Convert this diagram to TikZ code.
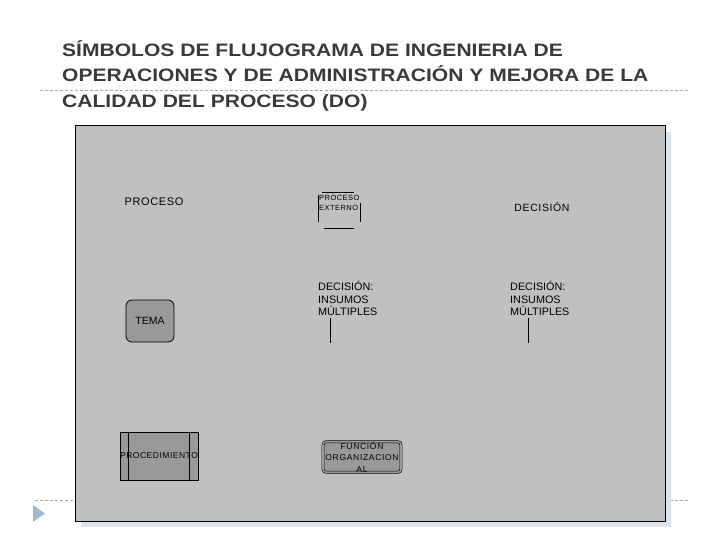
\documentclass[tikz,border=0pt]{standalone}
\usepackage{fontspec}
\usepackage{graphicx}
\setmainfont{Liberation Sans}
\newfontfamily\spaced[LetterSpace=6]{Liberation Sans}
\newfontfamily\wide[LetterSpace=8]{Liberation Sans}
\usetikzlibrary{positioning}

\definecolor{fond}{HTML}{C0C0C0}
\definecolor{ombre}{HTML}{DCE4EA}
\definecolor{symbole}{HTML}{999999}
\definecolor{titre}{HTML}{3A3A3A}
\definecolor{tirets}{HTML}{A8A8A8}
\definecolor{puce}{HTML}{A6B6CC}

\newcommand{\etire}[1]{\scalebox{1.17}[1]{#1}}

\tikzset{
  etiquette/.style={inner sep=0pt, font=\fontsize{10.8}{12.5}\selectfont, align=left},
  forme/.style={draw=black, fill=symbole, line width=0.8pt},
}

\begin{document}
\begin{tikzpicture}[x=1pt, y=-1pt]
    \useasboundingbox (0,0) rectangle (720,540);

    % Titre
    \node[anchor=north west, inner sep=0pt, align=left, text=titre,
      font=\fontsize{18}{25.5}\selectfont\bfseries] (titre) at (62,40)
    {\etire{SÍMBOLOS DE FLUJOGRAMA DE INGENIERIA DE}\\
     \etire{OPERACIONES Y DE ADMINISTRACIÓN Y MEJORA DE LA}\\
     \etire{CALIDAD DEL PROCESO (DO)}};

    % Lignes pointillees
    \draw[tirets, dash pattern=on 3pt off 2pt] (40,90) -- (688,90);
    \draw[tirets, dash pattern=on 3pt off 2pt] (35,500) -- (690,500);
    \fill[puce] (33,505) -- (45,513.5) -- (33,522) -- cycle;

    % Cadre
    \fill[ombre] (81,132) rectangle (671,527);
    \draw[fill=fond, line width=1pt] (75,126) rectangle (665,521);

    % Colonne gauche
    \node[etiquette, font=\spaced\fontsize{11}{13}\selectfont] (proceso) at (154,202) {PROCESO};
    \node[forme, rounded corners=6pt, minimum width=48pt, minimum height=42pt,
      font=\fontsize{10.5}{12}\selectfont] (tema) at (150,321) {TEMA};
    \node[forme, minimum width=78pt, minimum height=48pt, inner sep=0pt,
      font=\spaced\fontsize{8.5}{10}\selectfont] (procedimiento) at (159,456) {PROCEDIMIENTO};
    \draw[line width=0.8pt] ([xshift=9pt]procedimiento.north west) -- ([xshift=9pt]procedimiento.south west);
    \draw[line width=0.8pt] ([xshift=-9pt]procedimiento.north east) -- ([xshift=-9pt]procedimiento.south east);

    % Colonne centrale
    \node[etiquette, anchor=west, font=\spaced\fontsize{7.5}{10.5}\selectfont] (externo) at (319,203)
    {PROCESO\\EXTERNO};
    \draw[line width=0.8pt] (322,192) -- (354,192);
    \draw[line width=0.8pt] (318,195) -- (318,222);
    \draw[line width=0.8pt] (360,203) -- (360,222);
    \draw[line width=0.8pt] (324,228) -- (354,228);

    \node[etiquette, anchor=north west] (insumos) at (318,281) {DECISIÓN:\\INSUMOS\\MÚLTIPLES};
    \coordinate (pied) at (330,343);
    \draw[line width=0.8pt] (insumos.south west -| pied) ++(0,2) -- (pied);

    \node[forme, rounded corners=3pt, double=symbole, double distance=1.6pt, line width=0.6pt,
      minimum width=78pt, minimum height=30pt, inner sep=0pt, align=center,
      font=\wide\fontsize{8.5}{11.5}\selectfont] (funcion) at (362,457)
    {FUNCIÓN\\ORGANIZACION\\AL};

    % Colonne droite
    \node[etiquette, font=\spaced\fontsize{10.5}{12}\selectfont] (decision) at (542,207) {DECISIÓN};
    \node[etiquette, anchor=north west] (multiples) at (510,281) {DECISIÓN:\\INSUMOS\\MÚLTIPLES};
    \coordinate (base) at (528,343);
    \draw[line width=0.8pt] (multiples.south west -| base) ++(0,2) -- (base);
  \end{tikzpicture}
\end{document}
